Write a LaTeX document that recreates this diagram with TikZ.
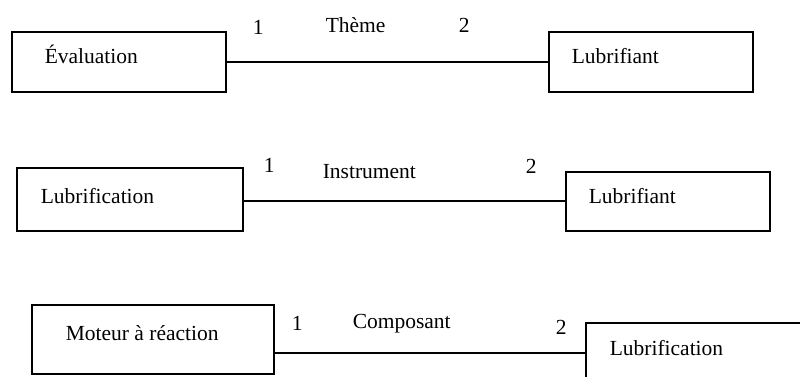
\documentclass[tikz,border=0pt]{standalone}
\usepackage{fontspec}
\setmainfont{Liberation Serif}
\usepackage{tikz}
\usetikzlibrary{positioning}

\begin{document}
\begin{tikzpicture}[x=1pt, y=-1pt, line width=1.5pt,
                    every node/.style={font=\fontsize{21.5}{25}\selectfont},
                    entity/.style={draw, rectangle, anchor=north west, inner sep=0pt},
                    term/.style={anchor=base west, inner sep=0pt},
                    card/.style={anchor=base west, inner sep=0pt}]
    \clip (0,0) rectangle (800,376);

   \node[entity, minimum width=214pt, minimum height=60pt] (evaluation)  at (11, 31)  {};
   \node[entity, minimum width=204pt, minimum height=60pt] (lubrifiant)  at (548, 31) {};
   \node[entity, minimum width=226pt, minimum height=63pt] (lubrication) at (16, 167) {};
   \node[entity, minimum width=204pt, minimum height=59pt] (lubrifiantb) at (565, 171) {};
   \node[entity, minimum width=242pt, minimum height=69pt] (moteur)      at (31, 304) {};
   \node[entity, minimum width=260pt, minimum height=90pt] (lubricationb) at (585, 322) {};

   \node[term] (evaluation_t)   at (44, 63)  {Évaluation};
   \node[term] (lubrifiant_t)   at (571, 63) {Lubrifiant};
   \node[term] (lubrication_t)  at (40, 203) {Lubrification};
   \node[term] (lubrifiantb_t)  at (588, 203) {Lubrifiant};
   \node[term] (moteur_t)       at (65, 340) {Moteur à réaction};
   \node[term] (lubricationb_t) at (609, 355) {Lubrification};

   % Define relations
   \draw (evaluation.east) -- (evaluation.east -| lubrifiant.west);
   \draw ([yshift=-1.5pt]lubrication.east) coordinate (c_lubr) -- (c_lubr -| lubrifiantb.west);
   \draw ([yshift=-13.5pt]moteur.east) coordinate (c_moteur) -- (c_moteur -| lubricationb.west);

   \node[card] (one_a)  at (252, 34)  {1};
   \node[card] (role_a) at (325, 32)  {Thème};
   \node[card] (two_a)  at (458, 32)  {2};
   \node[card] (one_b)  at (263, 172) {1};
   \node[card] (role_b) at (322, 178) {Instrument};
   \node[card] (two_b)  at (525, 173) {2};
   \node[card] (one_c)  at (291, 330) {1};
   \node[card] (role_c) at (352, 328) {Composant};
   \node[card] (two_c)  at (555, 334) {2};

\end{tikzpicture}
\end{document}
